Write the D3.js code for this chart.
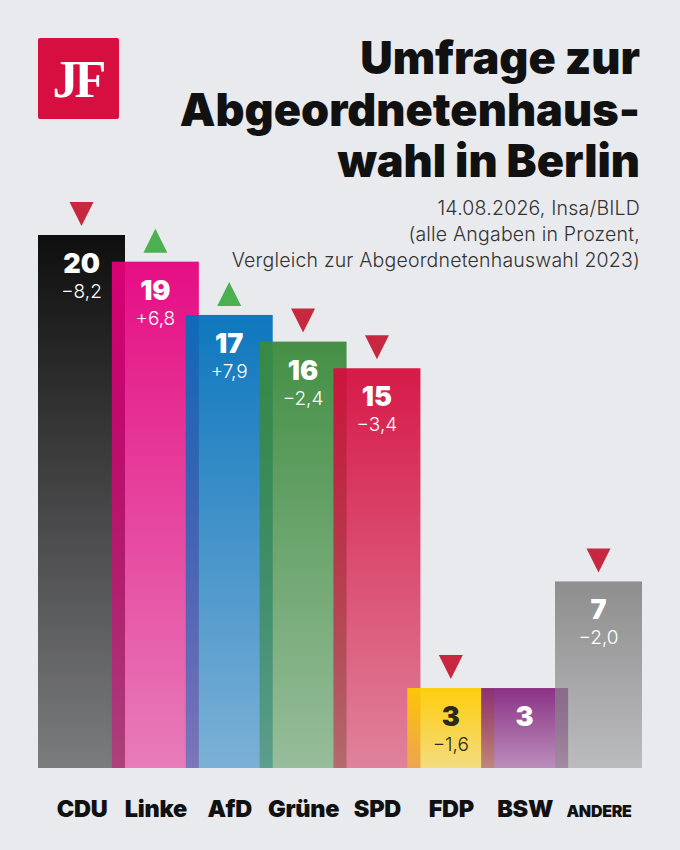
<!DOCTYPE html>
<html>
<head>
<meta charset="utf-8">
<script src="https://cdn.jsdelivr.net/npm/d3@7"></script>
<style>
  html, body { margin: 0; padding: 0; background: #e9eaee; }
  svg { display: block; }
  text { font-family: Inter, "Noto Sans", sans-serif; }
</style>
</head>
<body>
<div id="graph"></div>
<script>
// Daten
const parties = ["CDU", "Linke", "AfD", "Grüne", "SPD", "FDP", "BSW", "ANDERE"]
const values = [20, 19, 17, 16, 15, 3, 3, 7]
const changes = ["−8,2", "+6,8", "+7,9", "−2,4", "−3,4", "−1,6", null, "−2,0"]
const trends = ["down", "up", "up", "down", "down", "down", null, "down"]
const colours = ["#000000", "#e5007d", "#0070bb", "#3a8a3b", "#d50d3e", "#ffcc00", "#85267f", "#888888"]
const darkText = ["FDP"]

const titleLines = ["Umfrage zur", "Abgeordnetenhaus-", "wahl in Berlin"]
const subtitleLines = ["14.08.2026, Insa/BILD", "(alle Angaben in Prozent,", "Vergleich zur Abgeordnetenhauswahl 2023)"]

const dimensions = { width: 680, height: 850 }
const margin = { left: 38, right: 38, baseline: 768 }

const svg = d3.select("#graph")
  .append("svg")
    .attr("width", dimensions.width)
    .attr("height", dimensions.height)

svg.append("rect")
  .attr("width", dimensions.width)
  .attr("height", dimensions.height)
  .attr("fill", "#e9eaee")

// Logo
const logo = svg.append("g")
logo.append("rect")
  .attr("x", 38).attr("y", 38)
  .attr("width", 81).attr("height", 81)
  .attr("rx", 2)
  .attr("fill", "#d70f40")
logo.append("text")
  .attr("x", 77.5).attr("y", 97)
  .attr("text-anchor", "middle")
  .attr("fill", "#fff")
  .style("font-family", "'Liberation Serif', 'DejaVu Serif', serif")
  .style("font-size", "52px")
  .style("font-weight", "bold")
  .style("letter-spacing", "-4px")
  .text("JF")

// Titel
svg.append("g").selectAll("text")
  .data(titleLines)
  .join("text")
    .attr("x", 640)
    .attr("y", (_, i) => 74 + i * 51.5)
    .attr("text-anchor", "end")
    .attr("fill", "#111")
    .style("font-size", "45px")
    .style("font-weight", 900)
    .style("letter-spacing", "0px")
    .text(d => d)

svg.append("g").selectAll("text")
  .data(subtitleLines)
  .join("text")
    .attr("x", 640)
    .attr("y", (_, i) => 215 + i * 26)
    .attr("text-anchor", "end")
    .attr("fill", "#333")
    .style("font-size", "19.5px")
    .style("font-weight", 300)
    .style("letter-spacing", "0.2px")
    .text(d => d)

// Skalen
const xScale = d3.scalePoint()
  .domain(parties)
  .range([81.5, 598.5])

const barWidth = 87

const yScale = d3.scaleLinear()
  .domain([0, 20])
  .range([margin.baseline, 235])

// Verläufe
const defs = svg.append("defs")
parties.forEach((p, i) => {
  const grad = defs.append("linearGradient")
    .attr("id", "grad" + i)
    .attr("x1", 0).attr("y1", 0)
    .attr("x2", 0).attr("y2", 1)
  grad.append("stop").attr("offset", 0)
    .attr("stop-color", colours[i]).attr("stop-opacity", 0.94)
  grad.append("stop").attr("offset", 1)
    .attr("stop-color", colours[i]).attr("stop-opacity", 0.47)
})

const data = parties.map((p, i) => ({
  party: p, value: values[i], change: changes[i], trend: trends[i], i
}))

// Balken
svg.append("g").selectAll("rect")
  .data(data)
  .join("rect")
    .attr("x", d => xScale(d.party) - barWidth / 2)
    .attr("y", d => yScale(d.value))
    .attr("width", barWidth)
    .attr("height", d => yScale(0) - yScale(d.value))
    .attr("fill", d => `url(#grad${d.i})`)

// Pfeile
const tri = 12
svg.append("g").selectAll("path")
  .data(data.filter(d => d.trend))
  .join("path")
    .attr("d", d => {
      const cx = xScale(d.party)
      const top = yScale(d.value) - 33
      const bot = yScale(d.value) - 9
      return d.trend === "down"
        ? `M${cx - tri},${top}L${cx + tri},${top}L${cx},${bot}Z`
        : `M${cx - tri},${bot}L${cx + tri},${bot}L${cx},${top}Z`
    })
    .attr("fill", d => d.trend === "down" ? "#c8283f" : "#4cb050")

// Werte
const labels = svg.append("g")
labels.selectAll("text.value")
  .data(data)
  .join("text")
    .attr("class", "value")
    .attr("x", d => xScale(d.party))
    .attr("y", d => yScale(d.value) + 38)
    .attr("text-anchor", "middle")
    .attr("fill", d => darkText.includes(d.party) ? "#2a2a1a" : "#fff")
    .style("font-size", "27px")
    .style("font-weight", 900)
    .text(d => d.value)

labels.selectAll("text.change")
  .data(data.filter(d => d.change))
  .join("text")
    .attr("class", "change")
    .attr("x", d => xScale(d.party))
    .attr("y", d => yScale(d.value) + 63)
    .attr("text-anchor", "middle")
    .attr("fill", d => darkText.includes(d.party) ? "#2a2a1a" : "#fff")
    .style("font-size", "19px")
    .style("font-weight", 300)
    .text(d => d.change)

// Achse
const xAxis = svg.append("g")
  .attr("transform", `translate(0,${margin.baseline})`)
  .call(d3.axisBottom(xScale).tickSize(0).tickPadding(0))
xAxis.select(".domain").remove()
xAxis.selectAll("text")
  .attr("y", 49)
  .attr("dy", 0)
  .attr("fill", "#111")
  .style("font-family", "Inter, sans-serif")
  .style("font-weight", 900)
  .style("font-size", d => d === "ANDERE" ? "16px" : "23.5px")
  .style("letter-spacing", "-0.3px")
</script>
</body>
</html>
